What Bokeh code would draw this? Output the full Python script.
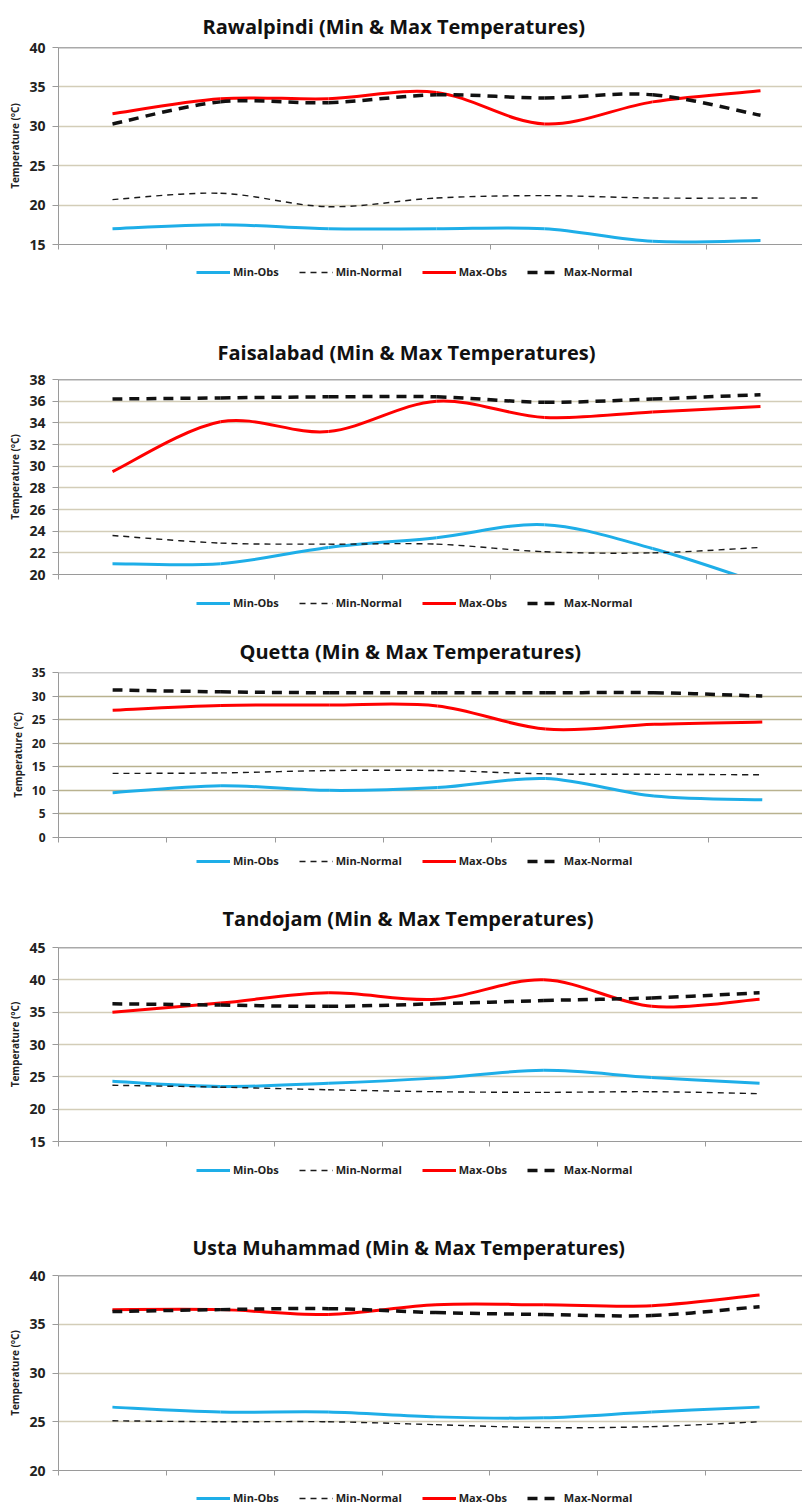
from bokeh.plotting import figure
from bokeh.models import Range1d, FixedTicker, Legend, LegendItem, Span, ColumnDataSource
from bokeh.layouts import column
from bokeh.embed import file_html
from bokeh.resources import INLINE

# ---------------- data ----------------
periods = [1, 2, 3, 4, 5, 6, 7]           # seven unlabeled periods on the x axis
series_names = ["Min-Obs", "Min-Normal", "Max-Obs", "Max-Normal"]

rawalpindi_min_obs = [17.0, 17.5, 17.0, 17.0, 17.0, 15.4, 15.5]
rawalpindi_min_normal = [20.7, 21.5, 19.8, 20.9, 21.2, 20.9, 20.9]
rawalpindi_max_obs = [31.6, 33.5, 33.5, 34.3, 30.3, 33.1, 34.5]
rawalpindi_max_normal = [30.3, 33.1, 33.0, 34.0, 33.6, 34.0, 31.4]

faisalabad_min_obs = [21.0, 21.0, 22.5, 23.4, 24.6, 22.4, 19.2]
faisalabad_min_normal = [23.6, 22.9, 22.8, 22.8, 22.1, 22.0, 22.5]
faisalabad_max_obs = [29.5, 34.1, 33.2, 36.0, 34.5, 35.0, 35.5]
faisalabad_max_normal = [36.2, 36.3, 36.4, 36.4, 35.9, 36.2, 36.6]

quetta_min_obs = [9.5, 11.0, 10.0, 10.6, 12.5, 8.8, 8.0]
quetta_min_normal = [13.6, 13.7, 14.2, 14.2, 13.5, 13.4, 13.3]
quetta_max_obs = [27.0, 28.0, 28.1, 27.9, 23.0, 24.0, 24.5]
quetta_max_normal = [31.3, 30.9, 30.7, 30.7, 30.7, 30.7, 30.0]

tandojam_min_obs = [24.3, 23.5, 24.0, 24.8, 26.0, 24.9, 24.0]
tandojam_min_normal = [23.7, 23.4, 23.0, 22.7, 22.6, 22.7, 22.4]
tandojam_max_obs = [35.0, 36.4, 38.0, 37.0, 40.0, 35.9, 37.0]
tandojam_max_normal = [36.3, 36.1, 35.9, 36.3, 36.8, 37.2, 38.0]

usta_min_obs = [26.5, 26.0, 26.0, 25.5, 25.4, 26.0, 26.5]
usta_min_normal = [25.1, 25.0, 25.0, 24.7, 24.4, 24.5, 25.0]
usta_max_obs = [36.5, 36.5, 36.0, 37.0, 37.0, 36.9, 38.0]
usta_max_normal = [36.3, 36.5, 36.6, 36.2, 36.0, 35.9, 36.8]

stations = [
    ("Rawalpindi (Min & Max Temperatures)", rawalpindi_min_obs, rawalpindi_min_normal,
     rawalpindi_max_obs, rawalpindi_max_normal, 15, 40, 5),
    ("Faisalabad (Min & Max Temperatures)", faisalabad_min_obs, faisalabad_min_normal,
     faisalabad_max_obs, faisalabad_max_normal, 20, 38, 2),
    ("Quetta (Min & Max Temperatures)", quetta_min_obs, quetta_min_normal,
     quetta_max_obs, quetta_max_normal, 0, 35, 5),
    ("Tandojam (Min & Max Temperatures)", tandojam_min_obs, tandojam_min_normal,
     tandojam_max_obs, tandojam_max_normal, 15, 45, 5),
    ("Usta Muhammad (Min & Max Temperatures)", usta_min_obs, usta_min_normal,
     usta_max_obs, usta_max_normal, 20, 40, 5),
]

# ---------------- layout / style ----------------
W = 802
BOTTOM = 12
# (border_top, frame_h, border_left, px per period, grid colour, top-line colour,
#  title size, title offset, title standoff, tick label size,
#  legend strip height, legend bottom offset)
layout_cfg = [
    (47, 197, 58, 108, "#d3cdb8", "#555555", "20px", 144, 16, "14px", 64, 41),
    (59, 195, 58, 108, "#d3cdb8", "#555555", "20px", 159, 28, "14px", 39, 15),
    (47, 165, 53, 109, "#b9b28f", "#9a9a9a", "20px", 181, 16, "12px", 36, 17),
    (62, 194, 57, 108, "#d3cdb8", "#555555", "20px", 164, 31, "14px", 47, 23),
    (75, 195, 57, 108, "#d3cdb8", "#555555", "19.5px", 134, 29, "14px", 24, 1),
]
FONT = "Open Sans"
styles = [
    dict(line_color="#1eaee8", line_width=3, line_dash="solid"),
    dict(line_color="#1a1a1a", line_width=1.4, line_dash="6 5"),
    dict(line_color="#ff0000", line_width=3, line_dash="solid"),
    dict(line_color="#111111", line_width=3.5, line_dash="10 7"),
]


def bezier_source(xs, ys):
    """Excel-like smoothed line: cubic Bezier segments between successive points."""
    n = len(xs)
    d = dict(x0=[], y0=[], x1=[], y1=[], cx0=[], cy0=[], cx1=[], cy1=[])
    for i in range(n - 1):
        pm, pp = max(i - 1, 0), min(i + 2, n - 1)
        d["x0"].append(xs[i]); d["y0"].append(ys[i])
        d["x1"].append(xs[i + 1]); d["y1"].append(ys[i + 1])
        d["cx0"].append(xs[i] + (xs[i + 1] - xs[pm]) / 6.0)
        d["cy0"].append(ys[i] + (ys[i + 1] - ys[pm]) / 6.0)
        d["cx1"].append(xs[i + 1] - (xs[pp] - xs[i]) / 6.0)
        d["cy1"].append(ys[i + 1] - (ys[pp] - ys[i]) / 6.0)
    return ColumnDataSource(d)


children = []
for (title, mn_o, mn_n, mx_o, mx_n, ymin, ymax, step), cfg in zip(stations, layout_cfg):
    btop, fh, bleft, ppu, gcol, topcol, tsize, toff, tstand, ticksize, leg_h, leg_y = cfg
    p = figure(width=W, height=btop + fh + BOTTOM, output_backend="svg", toolbar_location=None,
               x_range=Range1d(0, (W - bleft) / float(ppu)),
               y_range=Range1d(ymin, ymax),
               min_border_left=bleft, min_border_right=0,
               min_border_top=btop, min_border_bottom=BOTTOM)
    p.outline_line_color = None

    p.title.text = title
    p.title.align = "left"
    p.title.offset = toff
    p.title.standoff = tstand
    p.title.text_font = FONT
    p.title.text_font_style = "bold"
    p.title.text_font_size = tsize
    p.title.text_color = "#111111"

    # x axis: period boundaries with outside ticks, no labels
    xticks = list(range(0, len(periods) + 1))
    p.xaxis.ticker = FixedTicker(ticks=xticks)
    p.xaxis.major_label_overrides = {t: "" for t in xticks}
    p.xaxis.major_label_text_font_size = "4px"
    p.xaxis.major_label_standoff = 0
    p.xaxis.axis_line_color = "#9a9a9a"
    p.xaxis.major_tick_line_color = "#9a9a9a"
    p.xaxis.major_tick_out = 5
    p.xaxis.major_tick_in = 0
    p.xaxis.minor_tick_line_color = None
    p.xgrid.grid_line_color = None

    # y axis
    p.yaxis.ticker = FixedTicker(ticks=list(range(ymin, ymax + 1, step)))
    p.yaxis.axis_label = "Temperature (°C)"
    p.yaxis.axis_label_text_font = FONT
    p.yaxis.axis_label_text_font_style = "bold"
    p.yaxis.axis_label_text_font_size = "10px"
    p.yaxis.axis_label_text_color = "#222222"
    p.yaxis.axis_label_standoff = 4
    p.yaxis.major_label_text_font = FONT
    p.yaxis.major_label_text_font_style = "bold"
    p.yaxis.major_label_text_font_size = ticksize
    p.yaxis.major_label_text_color = "#222222"
    p.yaxis.major_label_standoff = 7
    p.yaxis.axis_line_color = "#9a9a9a"
    p.yaxis.major_tick_line_color = "#9a9a9a"
    p.yaxis.major_tick_out = 6
    p.yaxis.major_tick_in = 0
    p.yaxis.minor_tick_line_color = None
    p.ygrid.grid_line_color = gcol
    p.ygrid.grid_line_width = 1.3

    # line along the top of the plot area
    p.add_layout(Span(location=ymax, dimension="width", line_color=topcol, line_width=1.6))

    xs = [v - 0.5 for v in periods]
    series = [mn_o, mn_n, mx_o, mx_n]
    for ys, st in zip(series, styles):
        # smoothed series curve (Bezier segments through the data points)
        p.bezier(x0="x0", y0="y0", x1="x1", y1="y1", cx0="cx0", cy0="cy0",
                 cx1="cx1", cy1="cy1", source=bezier_source(xs, ys), **st)
    children.append(p)

    # legend strip under the chart (its line renderers lie outside the strip's ranges,
    # so only the legend swatches show)
    lf = figure(width=W, height=leg_h, output_backend="svg", toolbar_location=None,
                x_range=Range1d(-20, -19), y_range=Range1d(-20, -19),
                min_border_left=0, min_border_right=0, min_border_top=0, min_border_bottom=0)
    lf.axis.visible = False
    lf.xgrid.grid_line_color = None
    lf.ygrid.grid_line_color = None
    lf.outline_line_color = None
    items = []
    for name, ys, st in zip(series_names, series, styles):
        lr = lf.line(x=xs, y=ys, **st)
        items.append(LegendItem(label=name, renderers=[lr]))
    leg = Legend(items=items, orientation="horizontal", location=(138, leg_y),
                 border_line_color=None, background_fill_alpha=0,
                 label_text_font=FONT, label_text_font_style="bold",
                 label_text_font_size="11px", label_text_color="#222222",
                 glyph_width=34, glyph_height=12, label_standoff=3, spacing=20,
                 padding=0, margin=0)
    lf.add_layout(leg)
    children.append(lf)

layout = column(*children, spacing=0)
open("out.html", "w").write(file_html(layout, INLINE))
